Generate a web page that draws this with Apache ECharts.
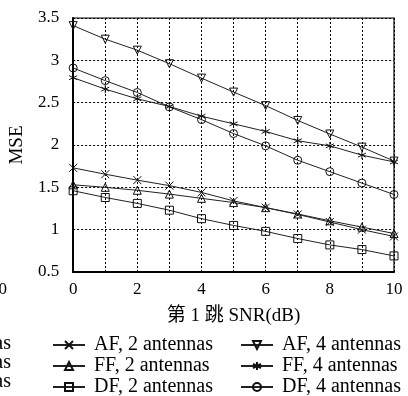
<!DOCTYPE html>
<html>
<head>
<meta charset="utf-8">
<script src="https://cdn.jsdelivr.net/npm/echarts@6/dist/echarts.min.js"></script>
<style>
html,body{margin:0;padding:0;background:#fff;}
#c{width:408px;height:396px;}
</style>
</head>
<body>
<div id="c"></div>
<script>
const snr = [0, 1, 2, 3, 4, 5, 6, 7, 8, 9, 10];
const af2 = [1.73, 1.655, 1.585, 1.52, 1.44, 1.34, 1.26, 1.18, 1.09, 1.00, 0.92];
const ff2 = [1.53, 1.50, 1.465, 1.42, 1.37, 1.32, 1.26, 1.185, 1.105, 1.03, 0.955];
const df2 = [1.46, 1.38, 1.31, 1.23, 1.13, 1.05, 0.98, 0.895, 0.82, 0.765, 0.69];
const af4 = [3.41, 3.25, 3.12, 2.96, 2.79, 2.625, 2.465, 2.29, 2.13, 1.975, 1.81];
const ff4 = [2.795, 2.66, 2.545, 2.455, 2.34, 2.25, 2.16, 2.05, 1.99, 1.88, 1.80];
const df4 = [2.91, 2.76, 2.62, 2.45, 2.30, 2.135, 1.99, 1.82, 1.685, 1.55, 1.415];
const names = ['AF, 2 antennas', 'FF, 2 antennas', 'DF, 2 antennas', 'AF, 4 antennas', 'FF, 4 antennas', 'DF, 4 antennas'];
const xTickLabels = ['0', '2', '4', '6', '8', '10'];
const yLabel = 'MSE';
const xLabel = '第 1 跳 SNR(dB)';

const FONT = '"Liberation Serif", "Noto Sans CJK SC", serif';
const SYM = {
  cross: 'path://M0,0L10,10M10,0L0,10',
  star: 'path://M5,0L5,10M0.7,2.5L9.3,7.5M0.7,7.5L9.3,2.5',
  tri: 'triangle',
  rect: 'rect',
  circle: 'circle'
};
function pairs(arr) { return snr.map((x, i) => [x, arr[i]]); }
function mk(name, data, symbol, rotate) {
  return {
    name: name, type: 'line', data: pairs(data),
    symbol: symbol, symbolSize: 8, symbolRotate: rotate || 0,
    showSymbol: true,
    lineStyle: { color: '#222', width: 1 },
    itemStyle: { color: 'rgba(255,255,255,0)', borderColor: '#111', borderWidth: 1 },
    emphasis: { disabled: true },
    animation: false
  };
}
const chart = echarts.init(document.getElementById('c'), null, { renderer: 'canvas' });
const legendCommon = {
  orient: 'vertical', itemWidth: 32, itemHeight: 10, itemGap: 1, padding: 0,
  height: 70,
  textStyle: { fontFamily: FONT, fontSize: 20, lineHeight: 18, color: '#000', padding: [0, 0, 0, 4] },
  selectedMode: false
};
chart.setOption({
  backgroundColor: '#fff',
  animation: false,
  grid: { left: 72, right: 14, top: 18, bottom: 124, show: true, borderColor: '#000', borderWidth: 1.2, containLabel: false },
  xAxis: {
    type: 'value', min: 0, max: 10, interval: 1,
    name: xLabel, nameLocation: 'middle', nameGap: 35,
    nameTextStyle: { fontFamily: FONT, fontSize: 19, color: '#000' },
    axisLine: { show: true, onZero: false, lineStyle: { color: '#000', width: 2 } },
    axisTick: { show: false },
    axisLabel: { fontFamily: FONT, fontSize: 17, color: '#000', margin: 9,
      formatter: v => xTickLabels.indexOf(String(v)) >= 0 ? String(v) : '' },
    splitLine: { show: true, lineStyle: { color: '#000', type: [2, 2], width: 1 } }
  },
  yAxis: {
    type: 'value', min: 0.5, max: 3.5, interval: 0.5,
    name: yLabel, nameLocation: 'middle', nameGap: 43,
    nameTextStyle: { fontFamily: FONT, fontSize: 19, color: '#000' },
    axisLine: { show: true, onZero: false, lineStyle: { color: '#000', width: 2 } },
    axisTick: { show: false },
    axisLabel: { fontFamily: FONT, fontSize: 17, color: '#000', margin: 14 },
    splitLine: { show: true, lineStyle: { color: '#000', type: [2, 2], width: 1 } }
  },
  legend: [
    Object.assign({}, legendCommon, { left: 52, top: 335, data: names.slice(0, 3) }),
    Object.assign({}, legendCommon, { left: 240, top: 335, data: names.slice(3) })
  ],
  graphic: [
    { type: 'text', left: -10, top: 281, style: { text: '10', font: '17px ' + FONT, fill: '#000' } },
    { type: 'text', right: 397, top: 334, style: { text: 'AF, 4 antennas', font: '20px ' + FONT, fill: '#000' } },
    { type: 'text', right: 397, top: 353, style: { text: 'FF, 4 antennas', font: '20px ' + FONT, fill: '#000' } },
    { type: 'text', right: 397, top: 372, style: { text: 'DF, 4 antennas', font: '20px ' + FONT, fill: '#000' } }
  ],
  series: [
    mk(names[0], af2, SYM.cross),
    mk(names[1], ff2, SYM.tri),
    mk(names[2], df2, SYM.rect),
    mk(names[3], af4, SYM.tri, 180),
    mk(names[4], ff4, SYM.star),
    mk(names[5], df4, SYM.circle)
  ]
});
</script>
</body>
</html>
